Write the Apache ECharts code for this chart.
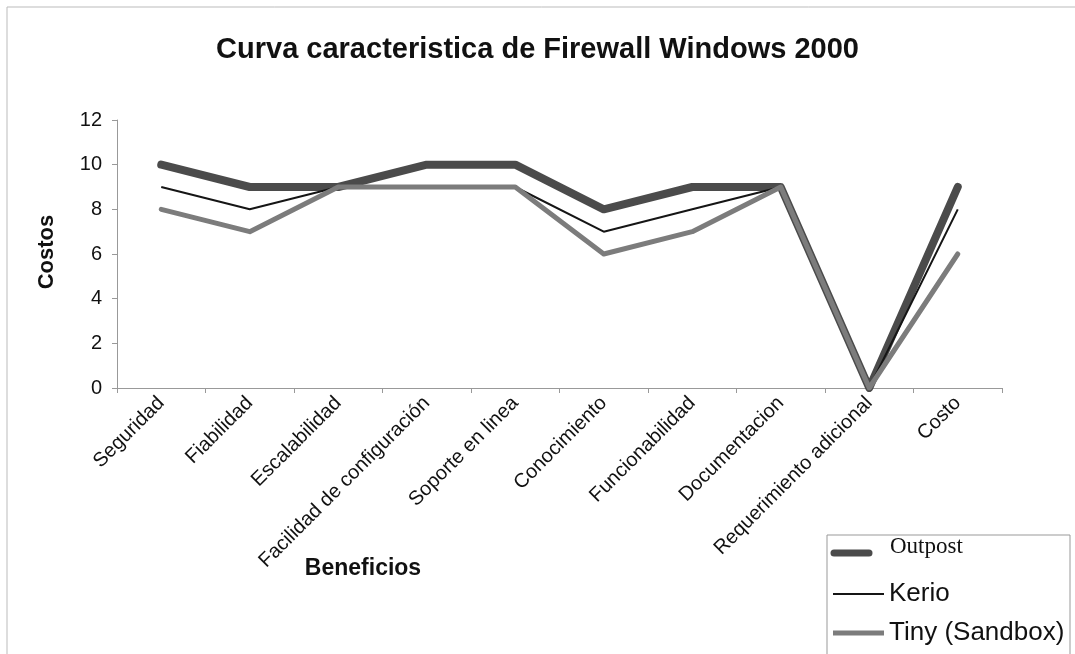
<!DOCTYPE html>
<html>
<head>
<meta charset="utf-8">
<script src="https://cdn.jsdelivr.net/npm/echarts@6/dist/echarts.min.js"></script>
<style>
  html, body { margin: 0; padding: 0; background: #fff; }
  #chart { width: 1075px; height: 654px; }
</style>
</head>
<body>
<div id="chart"></div>
<script>
// categorias (beneficios)
const categories = [
  'Seguridad', 'Fiabilidad', 'Escalabilidad', 'Facilidad de configuración',
  'Soporte en linea', 'Conocimiento', 'Funcionabilidad', 'Documentacion',
  'Requerimiento adicional', 'Costo'
]
const outpost = [10, 9, 9, 10, 10, 8, 9, 9, 0, 9]
const kerio = [9, 8, 9, 9, 9, 7, 8, 9, 0, 8]
const tiny = [8, 7, 9, 9, 9, 6, 7, 9, 0, 6]
const yTicks = [0, 2, 4, 6, 8, 10, 12]

const font = '"Liberation Sans", Arial, sans-serif'
const chart = echarts.init(document.getElementById('chart'))

const option = {
  backgroundColor: '#fff',
  animation: false,
  textStyle: { fontFamily: font, color: '#000' },
  title: {
    text: 'Curva caracteristica de Firewall Windows 2000',
    left: 'center',
    top: 30,
    textStyle: { fontFamily: font, fontSize: 29, fontWeight: 'bold', color: '#111' }
  },
  grid: { left: 117, right: 73, top: 120, bottom: 266, containLabel: false },
  legend: { show: false },
  xAxis: {
    type: 'category',
    data: categories,
    boundaryGap: true,
    axisLine: { lineStyle: { color: '#999', width: 1 } },
    axisTick: { show: true, alignWithLabel: false, length: 5, lineStyle: { color: '#999' } },
    axisLabel: {
      rotate: 45,
      interval: 0,
      margin: 12,
      fontSize: 20,
      fontFamily: font,
      color: '#111'
    }
  },
  yAxis: {
    type: 'value',
    min: yTicks[0],
    max: yTicks[yTicks.length - 1],
    interval: 2,
    axisLine: { show: true, lineStyle: { color: '#999', width: 1 } },
    axisTick: { show: true, length: 5, lineStyle: { color: '#999' } },
    splitLine: { show: false },
    axisLabel: { fontSize: 20, fontFamily: font, color: '#111', margin: 15 }
  },
  series: [
    {
      name: 'Outpost',
      type: 'line',
      data: outpost,
      symbol: 'none',
      lineStyle: { color: '#4b4b4b', width: 8, cap: 'round', join: 'round' },
      itemStyle: { color: '#4b4b4b' }
    },
    {
      name: 'Kerio',
      type: 'line',
      data: kerio,
      symbol: 'none',
      lineStyle: { color: '#151515', width: 2 },
      itemStyle: { color: '#151515' }
    },
    {
      name: 'Tiny (Sandbox)',
      type: 'line',
      data: tiny,
      symbol: 'none',
      lineStyle: { color: '#7c7c7c', width: 5, cap: 'round', join: 'round' },
      itemStyle: { color: '#7c7c7c' }
    }
  ],
  graphic: [
    // marco del grafico
    { type: 'rect', shape: { x: 7, y: 7, width: 1075, height: 700 }, style: { fill: 'none', stroke: '#bbb', lineWidth: 1 }, silent: true },
    // titulos de ejes
    { type: 'text', x: 47, y: 252, rotation: Math.PI / 2, style: { text: 'Costos', font: 'bold 22px ' + font, fill: '#111', align: 'center', verticalAlign: 'middle' } },
    { type: 'text', x: 363, y: 569, style: { text: 'Beneficios', font: 'bold 23px ' + font, fill: '#111', align: 'center', verticalAlign: 'middle' } },
    // leyenda
    { type: 'rect', shape: { x: 827, y: 535, width: 243, height: 125 }, style: { fill: '#fff', stroke: '#999', lineWidth: 1 } },
    { type: 'line', shape: { x1: 834, y1: 553, x2: 869, y2: 553 }, style: { stroke: '#4b4b4b', lineWidth: 7, lineCap: 'round' } },
    { type: 'text', x: 890, y: 547, style: { text: 'Outpost', font: '23px "Liberation Serif", "Times New Roman", serif', fill: '#111', verticalAlign: 'middle' } },
    { type: 'line', shape: { x1: 833, y1: 594, x2: 884, y2: 594 }, style: { stroke: '#151515', lineWidth: 2 } },
    { type: 'text', x: 889, y: 594, style: { text: 'Kerio', font: '26px ' + font, fill: '#111', verticalAlign: 'middle' } },
    { type: 'line', shape: { x1: 833, y1: 633, x2: 884, y2: 633 }, style: { stroke: '#7c7c7c', lineWidth: 5 } },
    { type: 'text', x: 889, y: 633, style: { text: 'Tiny (Sandbox)', font: '26px ' + font, fill: '#111', verticalAlign: 'middle' } }
  ]
}

chart.setOption(option)
</script>
</body>
</html>
